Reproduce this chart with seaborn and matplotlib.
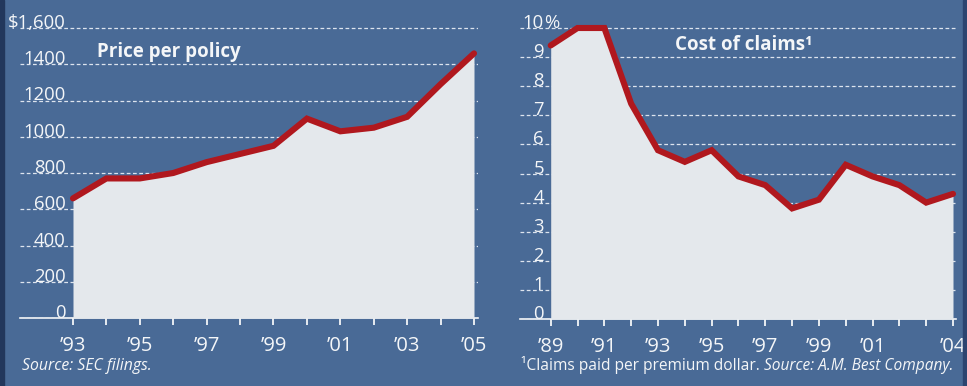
import matplotlib
matplotlib.use("Agg")
import matplotlib.pyplot as plt
import seaborn as sns
import pandas as pd
from matplotlib.patches import Rectangle

# ---- data ----
price_years = list(range(1993, 2006))
price_values = [660, 770, 770, 800, 860, 905, 950, 1100, 1030, 1050, 1110, 1290, 1460]
price_ticks = [0, 200, 400, 600, 800, 1000, 1200, 1400, 1600]
price_tick_labels = ["0", "200", "400", "600", "800", "1000", "1200", "1400", "$1,600"]
price_label_years = [1993, 1995, 1997, 1999, 2001, 2003, 2005]
price_year_labels = ["’93", "’95", "’97", "’99", "’01", "’03", "’05"]

claims_years = list(range(1989, 2005))
claims_values = [9.4, 10.0, 10.0, 7.4, 5.8, 5.4, 5.8, 4.9, 4.6, 3.8, 4.1, 5.3, 4.9, 4.6, 4.0, 4.3]
claims_ticks = [0, 1, 2, 3, 4, 5, 6, 7, 8, 9, 10]
claims_tick_labels = ["0", "1", "2", "3", "4", "5", "6", "7", "8", "9", "10"]
claims_label_years = [1989, 1991, 1993, 1995, 1997, 1999, 2001, 2004]
claims_year_labels = ["’89", "’91", "’93", "’95", "’97", "’99", "’01", "’04"]

# ---- style ----
BG = "#496a96"
FILL = "#e4e8ec"
LINE = "#b0181e"
TXT = "#f4f6f8"
GRID = "#dde4ee"
Y_SIZE = 13.3
X_SIZE = 14.5

sns.set_style("white")
plt.rcParams["font.family"] = ["Open Sans", "DejaVu Sans"]

W, H = 967, 386
fig = plt.figure(figsize=(W / 100, H / 100), dpi=100, facecolor=BG)
fig.patches.append(Rectangle((0, 0), 4 / W, 1, transform=fig.transFigure,
                             color="#22375c", zorder=0))
fig.patches.append(Rectangle((1 - 4 / W, 0), 4 / W, 1, transform=fig.transFigure,
                             color="#2c4470", zorder=0))


def panel(px_left, px_right, px_bottom, px_top, xlim, ylim):
    ax = fig.add_axes([px_left / W, 1 - px_bottom / H,
                       (px_right - px_left) / W, (px_bottom - px_top) / H])
    ax.set_facecolor("none")
    ax.set_xlim(*xlim)
    ax.set_ylim(*ylim)
    for s in ("top", "right", "left"):
        ax.spines[s].set_visible(False)
    ax.spines["bottom"].set_color(TXT)
    ax.spines["bottom"].set_linewidth(1.2)
    ax.spines["bottom"].set_zorder(1)
    return ax


def draw_series(ax, years, values, ticks, tick_labels, label_years, year_labels,
                label_x, pct=False):
    df = pd.DataFrame({"year": years, "value": values})
    ax.fill_between(df["year"], 0, df["value"], color=FILL, lw=0, zorder=2)
    sns.lineplot(data=df, x="year", y="value", ax=ax, color=LINE, linewidth=4.4,
                 zorder=3, solid_joinstyle="miter")
    ax.set_xlabel("")
    ax.set_ylabel("")

    # horizontal dashed rules
    ax.set_yticks(ticks)
    ax.tick_params(axis="y", left=False, labelleft=False)
    ax.yaxis.grid(True, color=GRID, linestyle=(0, (3, 2)), linewidth=0.9, zorder=0)
    ax.xaxis.grid(False)
    ax.set_axisbelow(True)

    # value labels sit on their rules
    for v, lab in zip(ticks, tick_labels):
        t = ax.text(label_x, v, lab, transform=ax.get_yaxis_transform(),
                    ha="right", va="baseline", color=TXT, fontsize=Y_SIZE)
        if pct and v == ticks[-1]:
            ax.annotate("%", xy=(1, 0), xycoords=t, ha="left", va="bottom",
                        color=TXT, fontsize=Y_SIZE)

    # yearly ticks, labels every other year
    ax.set_xticks(years)
    ax.set_xticklabels([year_labels[label_years.index(y)] if y in label_years else ""
                        for y in years])
    ax.tick_params(axis="x", bottom=True, direction="out", length=5, width=1.3,
                   color=TXT, labelcolor=TXT, labelsize=X_SIZE, pad=8)


# Price per policy
ax1 = panel(20, 478, 318, 20,
            (1993 - 53 / 33.42, 2005 + 4 / 33.42), (0, 1600 + 8 / 0.18125))
draw_series(ax1, price_years, price_values, price_ticks, price_tick_labels,
            price_label_years, price_year_labels, label_x=(66 - 20) / 458)
ax1.text((97 - 20) / 458, (318 - 57) / 298, "Price per policy", transform=ax1.transAxes,
         ha="left", va="baseline", color=TXT, fontsize=13.5, fontweight="bold")

# Cost of claims
ax2 = panel(520, 956, 319, 20,
            (1989 - 30.7 / 26.82, 2004 + 3 / 26.82), (0, 10 + 8 / 29.1))
draw_series(ax2, claims_years, claims_values, claims_ticks, claims_tick_labels,
            claims_label_years, claims_year_labels, label_x=(544 - 520) / 436, pct=True)
ax2.text((675 - 520) / 436, (319 - 50) / 299, "Cost of claims¹", transform=ax2.transAxes,
         ha="left", va="baseline", color=TXT, fontsize=13.5, fontweight="bold")

# footnotes
fig.text(22 / W, 1 - 370 / H, "Source: SEC filings.", ha="left", va="baseline",
         color=TXT, fontsize=11.3, style="italic")
f1 = fig.text(521 / W, 1 - 370 / H, "¹Claims paid per premium dollar. ", ha="left",
              va="baseline", color=TXT, fontsize=11.2)
fig.add_artist(matplotlib.text.Annotation(
    "Source: A.M. Best Company.", xy=(1, 0), xycoords=f1, ha="left", va="bottom",
    color=TXT, fontsize=11.2, style="italic"))

fig.savefig("out.png", dpi=100, facecolor=BG)
